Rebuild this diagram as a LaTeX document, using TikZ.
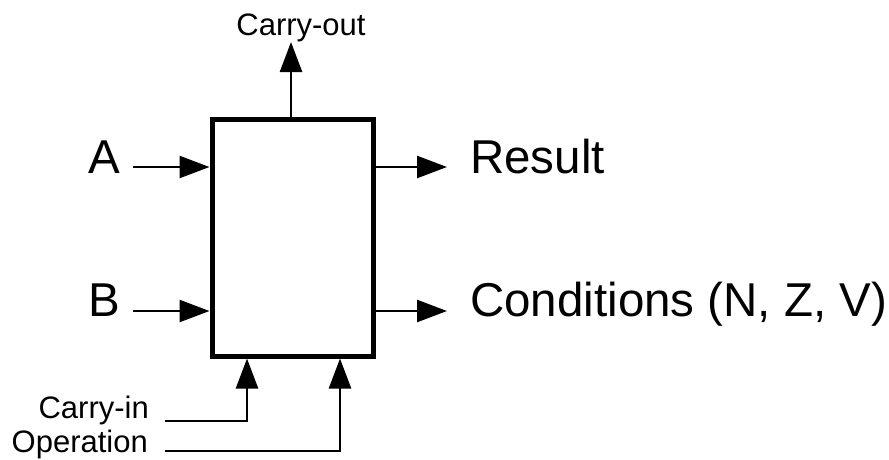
\documentclass[tikz,border=0pt]{standalone}
\usepackage{fontspec}
\setmainfont{Liberation Sans}
\usetikzlibrary{arrows.meta}
\begin{document}
\begin{tikzpicture}[x=1pt,y=-1pt,
  big/.style={font=\fontsize{47.5}{52}\selectfont, inner sep=0pt},
  small/.style={font=\fontsize{31}{34}\selectfont, inner sep=0pt},
  wire/.style={line width=2.5pt, -{Triangle[length=30pt,width=22pt]}},
  alubox/.style={draw, line width=5pt, minimum width=161pt, minimum height=237pt, inner sep=0pt}]
\useasboundingbox (0,0) rectangle (889,459);
\node[alubox] (alu) at (292.5,237.5) {};
% labels
\node[big, anchor=base east] (A) at (120,173) {A};
\node[big, anchor=base east] (B) at (120,316) {B};
\node[big, anchor=base west] (R) at (470,173) {Result};
\node[big, anchor=base west] (C) at (470,316) {Conditions (N, Z, V)};
\node[small, anchor=base] (co) at (301,35) {Carry-out};
\node[small, anchor=base east] (cin) at (149,418) {Carry-in};
\node[small, anchor=base east] (op) at (148,452) {Operation};
% coordinates
\coordinate (a0) at (133,167);
\coordinate (b0) at (133,311);
\coordinate (r1) at (447,167);
\coordinate (c1) at (447,311);
\coordinate (cotip) at (291,42);
\coordinate (ci0) at (165,421);
\coordinate (op0) at (165,451);
\coordinate (cix) at (247,0);
\coordinate (opx) at (340,0);
% connectors
\draw[wire] (a0) -- (a0 -| alu.west);
\draw[wire] (b0) -- (b0 -| alu.west);
\draw[wire] (r1 -| alu.east) -- (r1);
\draw[wire] (c1 -| alu.east) -- (c1);
\draw[wire] (cotip |- alu.north) -- (cotip);
\draw[wire] (ci0) -| (cix |- alu.south);
\draw[wire] (op0) -| (opx |- alu.south);
\end{tikzpicture}
\end{document}
